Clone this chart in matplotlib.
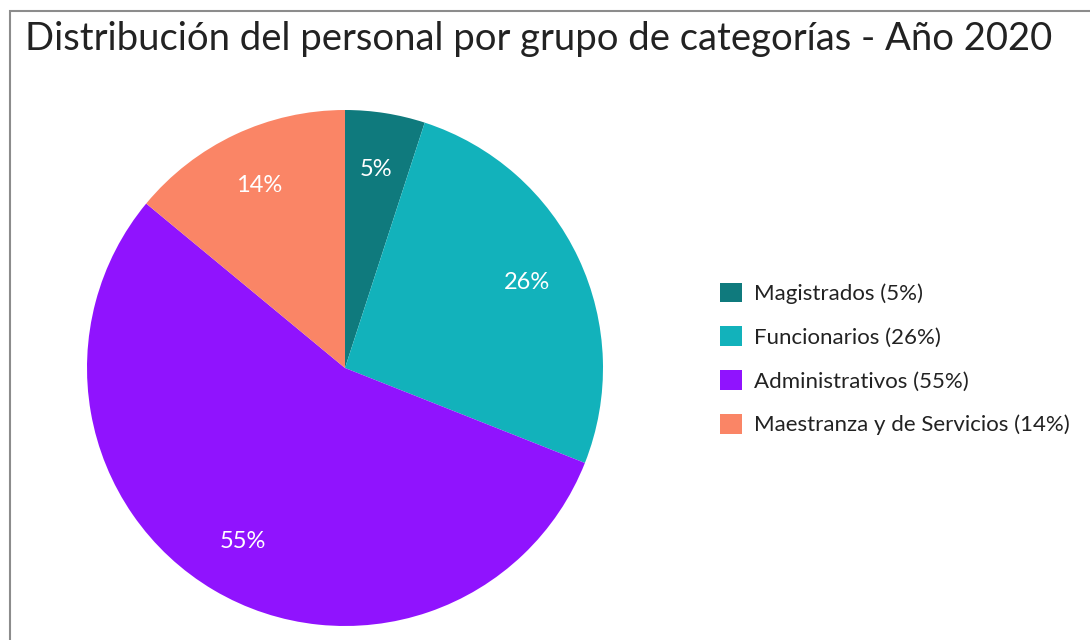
import matplotlib.pyplot as plt
from matplotlib.patches import Rectangle

# -----------------------------
# Data
# -----------------------------
categories = ["Magistrados", "Funcionarios", "Administrativos", "Maestranza y de Servicios"]
shares = [5, 26, 55, 14]
colors = ["#0F7A7D", "#12B2BB", "#9013FE", "#FA8566"]

TITLE = "Distribución del personal por grupo de categorías - Año 2020"

plt.rcParams["font.family"] = ["Lato", "DejaVu Sans"]

fig = plt.figure(figsize=(10.9, 6.4), dpi=100)

# outer frame (top + left border visible)
fig.add_artist(Rectangle((10 / 1090, -0.05), 1.1, (640 - 11) / 640 + 0.05,
                         transform=fig.transFigure, fill=False,
                         edgecolor="#8c8c8c", linewidth=1.5))

fig.text(25 / 1090, 1 - 39 / 640, TITLE, fontsize=27.5, color="#222222",
         va="center", ha="left")

# pie: centre (345, 368), radius ~258 px
r = 258
ax = fig.add_axes([(345 - r) / 1090, 1 - (368 + r) / 640, 2 * r / 1090, 2 * r / 640])
wedges, _, autotexts = ax.pie(
    shares, colors=colors, startangle=90, counterclock=False,
    autopct="%d%%", pctdistance=0.78,
    textprops=dict(color="white", fontsize=17),
    wedgeprops=dict(linewidth=0),
)
ax.set_xlim(-1, 1)
ax.set_ylim(-1, 1)
ax.set_aspect("equal")

labels = [f"{c} ({s}%)" for c, s in zip(categories, shares)]
fig.legend(wedges, labels, loc="center left",
           bbox_to_anchor=(720 / 1090, 1 - 359 / 640),
           frameon=False, fontsize=16, handlelength=1.0, handleheight=1.0,
           handletextpad=0.55, labelspacing=1.0, labelcolor="#222222",
           borderpad=0, borderaxespad=0)

plt.savefig("out.png", dpi=100)
